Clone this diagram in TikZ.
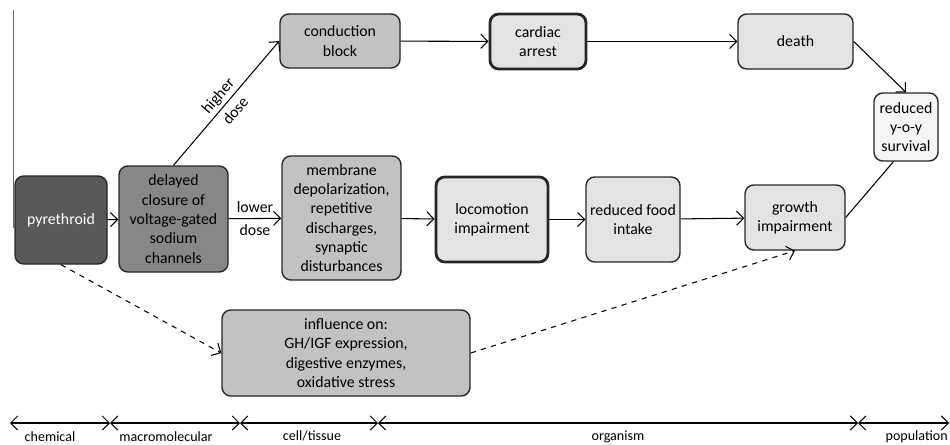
\documentclass[tikz,border=0pt]{standalone}
\usepackage{fontspec}
\setmainfont{Carlito}
\usetikzlibrary{arrows.meta}
\begin{document}
\begin{tikzpicture}[>={Straight Barb[length=4pt,width=8pt]}, line width=0.6pt,
	box/.style={draw=black!85, line width=0.8pt, rounded corners=5pt, align=center, inner sep=1pt, font=\fontsize{9}{11}\selectfont},
	darkbox/.style={box, fill=black!65, text=white},
	midbox/.style={box, fill=black!47},
	greybox/.style={box, fill=black!24},
	lightbox/.style={box, fill=black!11},
	palebox/.style={box, fill=black!4},
	key/.style={line width=1.6pt},
	lvl/.style={font=\fontsize{8}{9}\selectfont}]
	\useasboundingbox (0,0) rectangle (19,8.88);
	\draw[black!60, line width=0.5pt] (0.26,8.68) -- (0.26,4.32);
	\node[darkbox, minimum width=1.84cm, minimum height=1.76cm] (pyr) at (1.22,4.48) {pyrethroid};
	\node[midbox, minimum width=2.18cm, minimum height=2.12cm] (nach) at (3.47,4.50) {delayed\\closure of\\voltage-gated\\sodium\\channels};
	\node[greybox, minimum width=2.40cm, minimum height=1.08cm] (block) at (6.80,8.06) {conduction\\block};
	\node[lightbox, key, minimum width=1.92cm, minimum height=1.10cm] (arrest) at (10.76,8.05) {cardiac\\arrest};
	\node[lightbox, minimum width=2.30cm, minimum height=1.10cm] (death) at (15.91,8.05) {death};
	\node[palebox, minimum width=1.28cm, minimum height=1.36cm] (surv) at (18.12,6.34) {reduced\\y-o-y\\survival};
	\node[greybox, minimum width=2.38cm, minimum height=2.48cm] (memb) at (6.83,4.52) {membrane\\depolarization,\\repetitive\\discharges,\\synaptic\\disturbances};
	\node[lightbox, key, minimum width=2.24cm, minimum height=1.70cm] (loco) at (9.84,4.49) {locomotion\\impairment};
	\node[lightbox, minimum width=1.88cm, minimum height=1.70cm] (food) at (12.66,4.49) {reduced food\\intake};
	\node[lightbox, minimum width=2.00cm, minimum height=1.30cm] (growth) at (15.90,4.53) {growth\\impairment};
	\node[greybox, minimum width=4.96cm, minimum height=1.72cm] (infl) at (6.92,1.82) {influence on:\\GH/IGF expression,\\digestive enzymes,\\oxidative stress};
	\draw[->] (pyr) -- (nach);
	\draw[->] (nach.north) -- node[sloped, align=center, inner sep=1pt, font=\fontsize{9}{11}\selectfont] {higher\\[2pt]dose} (block.west);
	\draw[->] (nach) -- node[align=center, inner sep=1pt, font=\fontsize{9}{11}\selectfont] {lower\\[2pt]dose} (memb);
	\draw[->] (block) -- (arrest);
	\draw[->] (arrest) -- (death);
	\draw[->] (death.east) -- (surv.north);
	\draw[->] (memb) -- (loco);
	\draw[->] (loco) -- (food);
	\draw[->] (food) -- (growth);
	\draw (growth.east) -- (surv.250);
	\draw[->, dashed] (pyr.south) -- (infl.west);
	\draw[->, dashed] (infl.east) -- (growth.south);
	\foreach \n/\x in {t0/0.2, t1/2.2, t2/4.8, t3/7.56, t4/17.16, t5/18.98}
		\coordinate (\n) at (\x,0.42);
	\foreach \a/\b in {t0/t1, t1/t2, t2/t3, t3/t4, t4/t5}
		\draw[<->] (\a) -- (\b);
	\node[lvl] (chem) at (1.0,0.14) {chemical};
	\node[lvl] (macro) at (3.32,0.14) {macromolecular};
	\node[lvl] (cell) at (6.24,0.16) {cell/tissue};
	\node[lvl] (org) at (12.36,0.14) {organism};
	\node[lvl, anchor=east, inner xsep=1pt] (popu) at (19,0.14) {population};
\end{tikzpicture}
\end{document}
